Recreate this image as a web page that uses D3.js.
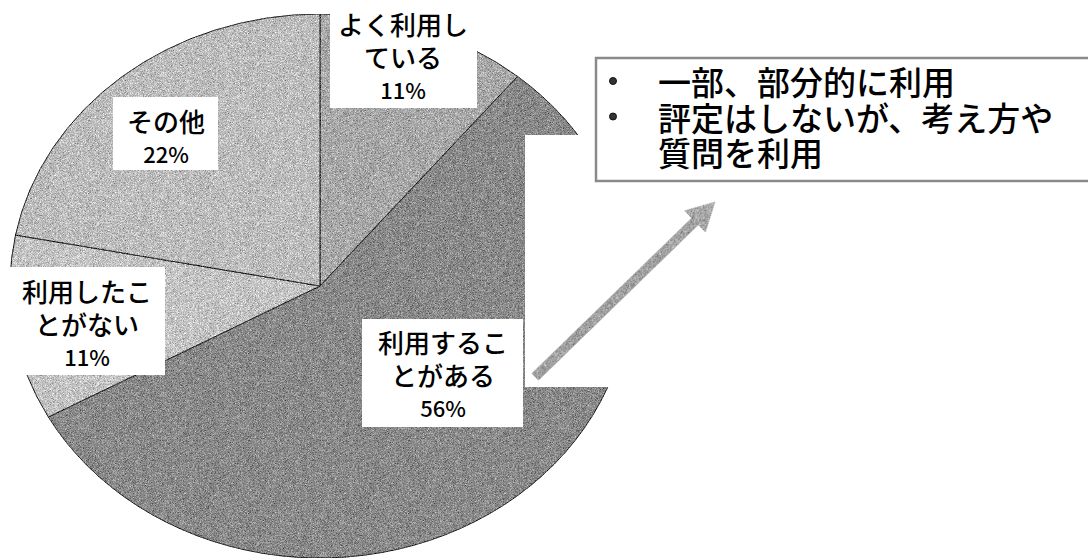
<!DOCTYPE html>
<html>
<head>
<meta charset="utf-8">
<script src="https://cdn.jsdelivr.net/npm/d3@7/dist/d3.min.js"></script>
<style>
  html, body { margin: 0; padding: 0; background: #fff; }
  svg { display: block; }
  text { font-family: "Noto Sans CJK JP", "Noto Sans", sans-serif; fill: #000; font-weight: 500; }
</style>
</head>
<body>
<svg id="chart" width="1088" height="560"></svg>
<script>
// Survey answers: share of respondents per category (percent)
const categories = ["よく利用している", "利用することがある", "利用したことがない", "その他"];
const values = [11, 56, 11, 22];
const labelLines = [["よく利用し", "ている"], ["利用するこ", "とがある"], ["利用したこ", "とがない"], ["その他"]];
const noteLines = [["一部、部分的に利用"], ["評定はしないが、考え方や", "質問を利用"]];

const sliceColors = ["#a9a9a9", "#8b8b8b", "#c5c5c5", "#bebebe"];

// label boxes placed beside/within their slices: [x, y, w, h, centre x, first line y]
const labelBoxes = [
  [330, 0, 147, 108, 403, 23],
  [362, 319, 161, 108, 443, 341],
  [10, 267, 155, 108, 87, 290],
  [113, 97, 105, 73, 166, 120]
];

const svg = d3.select("#chart");
const defs = svg.append("defs");

// halftone-like grain over the pie
const grain = defs.append("filter").attr("id", "grain")
  .attr("x", 0).attr("y", 0).attr("width", 1).attr("height", 1)
  .attr("color-interpolation-filters", "sRGB");
grain.append("feTurbulence").attr("type", "fractalNoise")
  .attr("baseFrequency", 1.6).attr("numOctaves", 1).attr("seed", 7).attr("result", "noise");
grain.append("feColorMatrix").attr("in", "noise").attr("type", "matrix")
  .attr("values", "0.33 0.33 0.33 0 0  0.33 0.33 0.33 0 0  0.33 0.33 0.33 0 0  0 0 0 0 1")
  .attr("result", "gray");
grain.append("feComposite").attr("in", "SourceGraphic").attr("in2", "gray")
  .attr("operator", "arithmetic").attr("k1", 0).attr("k2", 1).attr("k3", 1.4).attr("k4", -0.7)
  .attr("result", "mix");
grain.append("feComposite").attr("in", "mix").attr("in2", "SourceGraphic").attr("operator", "in");

// pie drawn as a slightly flattened ellipse
const cx = 320, cy = 286, rx = 310, ry = 272;
const pie = d3.pie().sort(null).value(d => d.value);
const arc = d3.arc().innerRadius(0).outerRadius(rx);
const data = categories.map((c, i) => ({ name: c, value: values[i], color: sliceColors[i] }));

const pieG = svg.append("g").attr("filter", "url(#grain)");
pieG.append("g")
  .attr("transform", `translate(${cx},${cy}) scale(1,${ry / rx})`)
  .selectAll("path")
  .data(pie(data))
  .join("path")
  .attr("d", arc)
  .attr("fill", d => d.data.color)
  .attr("stroke", "#2a2a2a")
  .attr("stroke-width", 1)
  .attr("vector-effect", "non-scaling-stroke");

// white panel behind the arrow, cutting into the pie's right side
svg.append("rect").attr("x", 525).attr("y", 135).attr("width", 120).attr("height", 252).attr("fill", "#fff");

// slice labels on white boxes (one text block per slice)
const lab = svg.append("g").selectAll("g")
  .data(data)
  .join("g");
lab.append("rect")
  .attr("x", (d, i) => labelBoxes[i][0]).attr("y", (d, i) => labelBoxes[i][1])
  .attr("width", (d, i) => labelBoxes[i][2]).attr("height", (d, i) => labelBoxes[i][3])
  .attr("fill", "#fff");
lab.each(function (d, i) {
  const b = labelBoxes[i];
  const lines = labelLines[i];
  const t = d3.select(this).append("text")
    .attr("text-anchor", "middle").attr("dominant-baseline", "central");
  lines.forEach((ln, k) => {
    t.append("tspan").attr("x", b[4]).attr("y", b[5] + k * 33)
      .attr("font-size", 26).text(ln);
  });
  t.append("tspan").attr("x", b[4]).attr("y", b[5] + lines.length * 33)
    .attr("font-size", 22).text(d.value + "%");
});

// arrow pointing from the largest slice to the note box
const grad = defs.append("linearGradient").attr("id", "arrowGrad")
  .attr("gradientUnits", "userSpaceOnUse")
  .attr("x1", 535).attr("y1", 377).attr("x2", 715).attr("y2", 202);
grad.append("stop").attr("offset", 0).attr("stop-color", "#a2a2a2");
grad.append("stop").attr("offset", 1).attr("stop-color", "#cdcdcd");

const ax0 = 535, ay0 = 377, ax1 = 715, ay1 = 202;
const len = Math.hypot(ax1 - ax0, ay1 - ay0);
const ang = Math.atan2(ay1 - ay0, ax1 - ax0) * 180 / Math.PI;
const sw = 4.5, hl = 28, hw = 15;
svg.append("path")
  .attr("transform", `translate(${ax0},${ay0}) rotate(${ang})`)
  .attr("d", `M0,${-sw} L${len - hl},${-sw} L${len - hl},${-hw} L${len},0 L${len - hl},${hw} L${len - hl},${sw} L0,${sw} Z`)
  .attr("fill", "url(#arrowGrad)")
  .attr("filter", "url(#grain)");

// note box with bulleted remarks
const note = svg.append("g");
note.append("rect").attr("x", 596).attr("y", 58).attr("width", 520).attr("height", 123)
  .attr("fill", "#fff").attr("stroke", "#8a8a8a").attr("stroke-width", 2.5);
const noteText = note.append("text").attr("dominant-baseline", "central").attr("font-size", 33);
let row = 0;
noteLines.forEach(item => {
  note.append("circle").attr("cx", 613).attr("cy", 81 + row * 35.5).attr("r", 3.5)
    .attr("fill", "#333").attr("stroke", "#111").attr("stroke-width", 1);
  item.forEach(ln => {
    noteText.append("tspan").attr("x", 658).attr("y", 81 + row * 35.5).text(ln);
    row++;
  });
});
</script>
</body>
</html>
